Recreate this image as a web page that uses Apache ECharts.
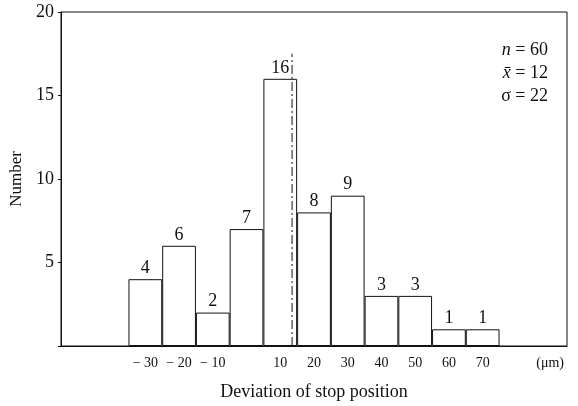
<!DOCTYPE html>
<html>
<head>
<meta charset="utf-8">
<script src="https://cdn.jsdelivr.net/npm/echarts@6/dist/echarts.min.js"></script>
<style>html,body{margin:0;padding:0;background:#fff}#c{width:578px;height:406px}</style>
</head>
<body>
<div id="c"></div>
<script>
// Bin centres (µm) and counts
const binCenters = [-50, -40, -30, -20, -10, 0, 10, 20, 30, 40, 50, 60, 70, 80, 90];
const counts = [null, null, 4, 6, 2, 7, 16, 8, 9, 3, 3, 1, 1, null, null];
const tickLabels = ['', '', '− 30', '− 20', '− 10', '', '10', '20', '30', '40', '50', '60', '70', '', '(μm)'];
const yTicks = [5, 10, 15, 20];
const meanLineX = 13.5;
const meanLineTop = 17.5;
const stats = ['n', 'x̄', 'σ'];
const statValues = [60, 12, 22];

const serif = '"Liberation Serif", "DejaVu Serif", serif';
const chart = echarts.init(document.getElementById('c'), null, {renderer: 'canvas'});
chart.setOption({
  backgroundColor: '#fff',
  animation: false,
  textStyle: {fontFamily: serif, color: '#111'},
  grid: {left: 61, right: 11, top: 12, bottom: 58, show: true, borderColor: '#111', borderWidth: 1, backgroundColor: 'transparent'},
  xAxis: [{
    type: 'category',
    data: binCenters,
    boundaryGap: true,
    axisLine: {onZero: false, lineStyle: {color: '#111', width: 1}},
    axisTick: {show: false},
    axisLabel: {
      interval: 0, fontFamily: serif, fontSize: 14, color: '#111', margin: 10,
      formatter: (v, i) => tickLabels[i]
    },
    name: 'Deviation of stop position',
    nameLocation: 'middle',
    nameGap: 37,
    nameTextStyle: {fontFamily: serif, fontSize: 18, color: '#111'}
  }, {
    type: 'value', min: -55, max: 95, show: false
  }],
  yAxis: {
    type: 'value', min: 0, max: 20, interval: 5,
    axisLine: {show: true, onZero: false, lineStyle: {color: '#111', width: 1}},
    axisTick: {show: true, length: 3, lineStyle: {color: '#111'}},
    splitLine: {show: false},
    axisLabel: {fontFamily: serif, fontSize: 18, color: '#111', margin: 7,
      formatter: v => yTicks.indexOf(v) >= 0 ? String(v) : ''},
    name: 'Number',
    nameLocation: 'middle',
    nameGap: 36,
    nameRotate: 90,
    nameTextStyle: {fontFamily: serif, fontSize: 17, color: '#111'}
  },
  series: [{
    type: 'bar',
    data: counts,
    barCategoryGap: '0%',
    itemStyle: {color: '#fff', borderColor: '#111', borderWidth: 1},
    label: {show: true, position: 'top', distance: 2, fontFamily: serif, fontSize: 18, color: '#111'}
  }, {
    type: 'line',
    xAxisIndex: 1,
    data: [[meanLineX, 0], [meanLineX, meanLineTop]],
    symbol: 'none',
    lineStyle: {color: '#111', width: 1, type: [9, 3, 2, 3]},
    z: 5
  }],
  graphic: stats.map((s, i) => ({
    type: 'text',
    right: 30,
    top: 41 + i * 23,
    style: {
      text: '{v|' + s + '}{n| = ' + statValues[i] + '}',
      rich: {
        v: {fontFamily: serif, fontSize: 18, fontStyle: i < 2 ? 'italic' : 'normal', fill: '#111', color: '#111'},
        n: {fontFamily: serif, fontSize: 18, fill: '#111', color: '#111'}
      },
      fill: '#111'
    }
  }))
});
</script>
</body>
</html>
